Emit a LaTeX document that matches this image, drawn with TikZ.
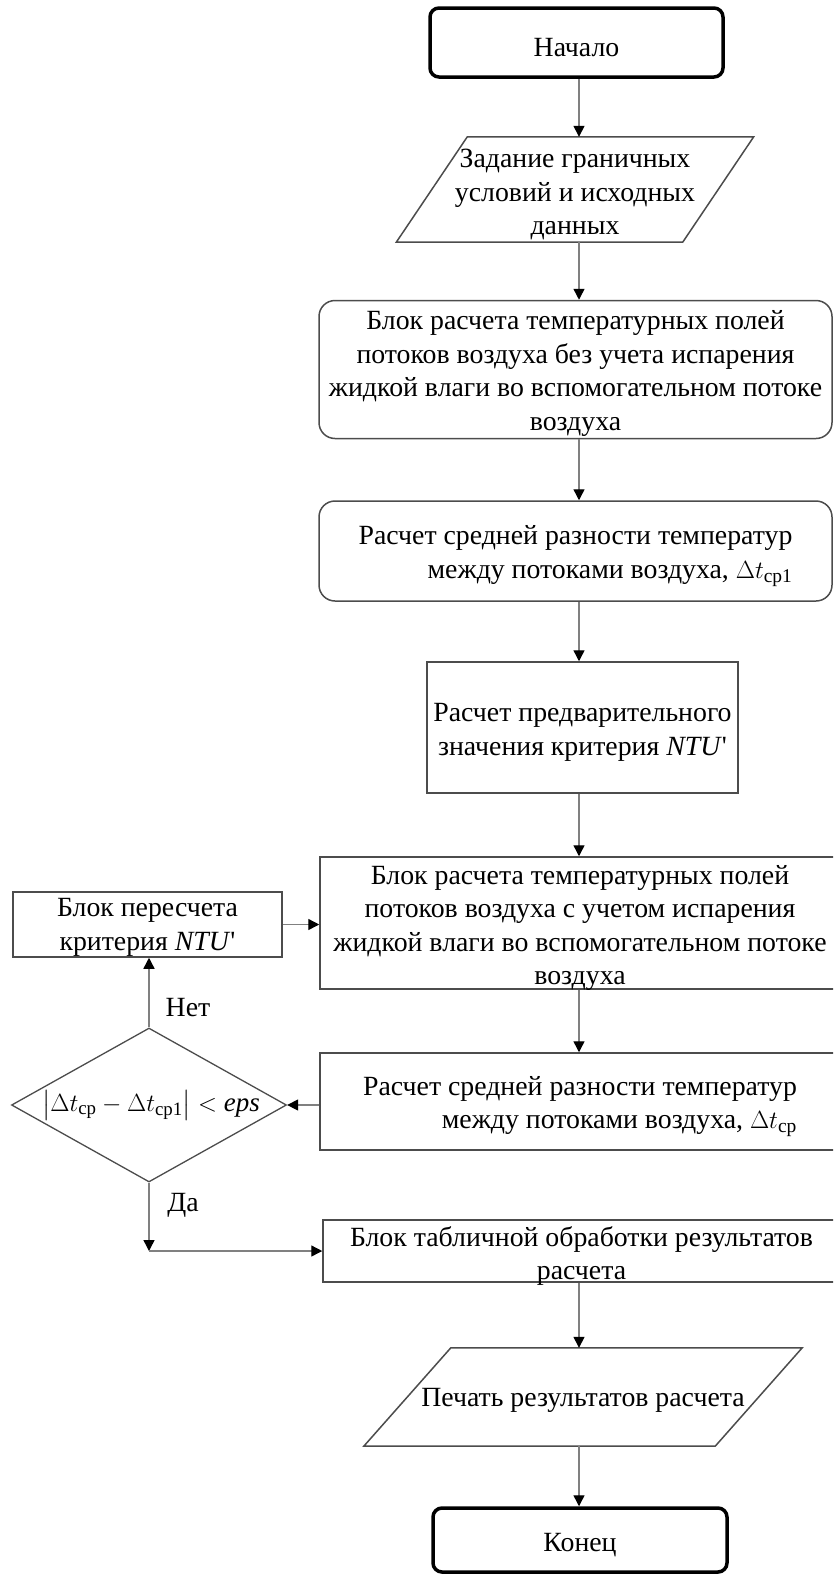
\documentclass[tikz,border=0pt]{standalone}
\usepackage{fontspec}
\setmainfont{Liberation Serif}
\usepackage{amsmath}
\usetikzlibrary{arrows.meta,shapes.geometric,calc}
\begin{document}
\begin{tikzpicture}[x=1pt,y=1pt,
  font=\fontsize{27.8}{33.5}\selectfont,
  shapeline/.style={draw=black!70, line width=1.5pt},
  box/.style={shapeline, inner sep=0pt},
  rbox/.style={box, rounded corners=16pt},
  term/.style={draw=black, line width=3.5pt, rounded corners=9pt, inner sep=0pt},
  io/.style={inner sep=0pt},
  txt/.style={inner sep=0pt, align=center, yshift=-5pt},
  txtr/.style={inner sep=0pt, align=right, yshift=-5pt},
  conn/.style={draw=black!50, line width=1.4pt, -{Triangle[length=11pt,width=11pt,color=black]}},
  lbl/.style={inner sep=0pt}
]
\useasboundingbox (0,0) rectangle (833,-1574);
\clip (0,0) rectangle (833,-1574);
\coordinate (ax) at (579,0);

\node[term, minimum width=293, minimum height=69, label={[txt]center:Начало}] (start) at (576.5,-42.5) {};

\node[io, minimum width=286, minimum height=105, label={[txt]center:{Задание граничных\\условий и исходных\\данных}}] (p1) at (575,-189.5) {};
\draw[shapeline] ($(p1.north west)+(35.5,0)$) -- ($(p1.north east)+(35.5,0)$) -- ($(p1.south east)-(35.5,0)$) -- ($(p1.south west)-(35.5,0)$) -- cycle;

\node[rbox, minimum width=513, minimum height=138, label={[txt,yshift=1pt]center:{Блок расчета температурных полей\\потоков воздуха без учета испарения\\жидкой влаги во вспомогательном потоке\\воздуха}}] (b3) at (575.5,-369.5) {};

\node[rbox, minimum width=513, minimum height=100, label={[txtr]center:{Расчет средней разности температур\\между потоками воздуха, $\Delta t_{\text{ср1}}$}}] (b4) at (575.5,-551) {};

\node[box, minimum width=311, minimum height=131, label={[txt]center:{Расчет предварительного\\значения критерия \textit{NTU}\textquotesingle}}] (b5) at (582.5,-727.5) {};

\node[box, minimum width=520, minimum height=132, label={[txt]center:{Блок расчета температурных полей\\потоков воздуха с учетом испарения\\жидкой влаги во вспомогательном потоке\\воздуха}}] (b6) at (580,-923) {};

\node[box, minimum width=269, minimum height=65, label={[txt,yshift=2pt]center:{Блок пересчета\\критерия \textit{NTU}\textquotesingle}}] (b7) at (147.5,-924.5) {};

\node[diamond, draw=black!70, line width=1.3pt, minimum width=275, minimum height=154, inner sep=0pt, label={[inner sep=0pt, xshift=2pt, font=\fontsize{27}{33}\selectfont]center:{$\bigl|\Delta t_{\text{ср}} - \Delta t_{\text{ср1}}\bigr| < \mathit{eps}$}}] (dia) at (149,-1105) {};

\node[box, minimum width=520, minimum height=97, label={[txtr]center:{Расчет средней разности температур\\между потоками воздуха, $\Delta t_{\text{ср}}$}}] (b8) at (580,-1101.5) {};

\node[box, minimum width=517, minimum height=62, label={[txt]center:{Блок табличной обработки результатов\\расчета}}] (b9) at (581.5,-1251) {};

\node[io, minimum width=351, minimum height=98, label={[txt,yshift=2pt]center:Печать результатов расчета}] (p2) at (583,-1397) {};
\draw[shapeline] ($(p2.north west)+(43.5,0)$) -- ($(p2.north east)+(43.5,0)$) -- ($(p2.south east)-(43.5,0)$) -- ($(p2.south west)-(43.5,0)$) -- cycle;

\node[term, minimum width=294, minimum height=64, label={[txt]center:Конец}] (end) at (580,-1540) {};

\draw[conn] (start.south -| ax) -- (p1.north -| ax);
\draw[conn] (p1.south -| ax) -- (b3.north -| ax);
\draw[conn] (b3.south -| ax) -- (b4.north -| ax);
\draw[conn] (b4.south -| ax) -- (b5.north -| ax);
\draw[conn] (b5.south -| ax) -- (b6.north -| ax);
\draw[conn] (b6.south -| ax) -- (b8.north -| ax);
\draw[conn] (b9.south -| ax) -- (p2.north -| ax);
\draw[conn] (p2.south -| ax) -- (end.north -| ax);
\draw[conn] (b7.east) -- (b7.east -| b6.west);
\draw[conn] (dia.north) -- (dia.north |- b7.south);
\draw[conn] (b8.west |- dia.east) -- (dia.east);
\coordinate (cn) at (dia.south |- b9.west);
\draw[conn] (dia.south) -- (cn);
\draw[conn] (cn) -- (b9.west);

\node[lbl] (no) at (188,-1008) {Нет};
\node[lbl] (yes) at (183,-1205) {Да};
\end{tikzpicture}
\end{document}
